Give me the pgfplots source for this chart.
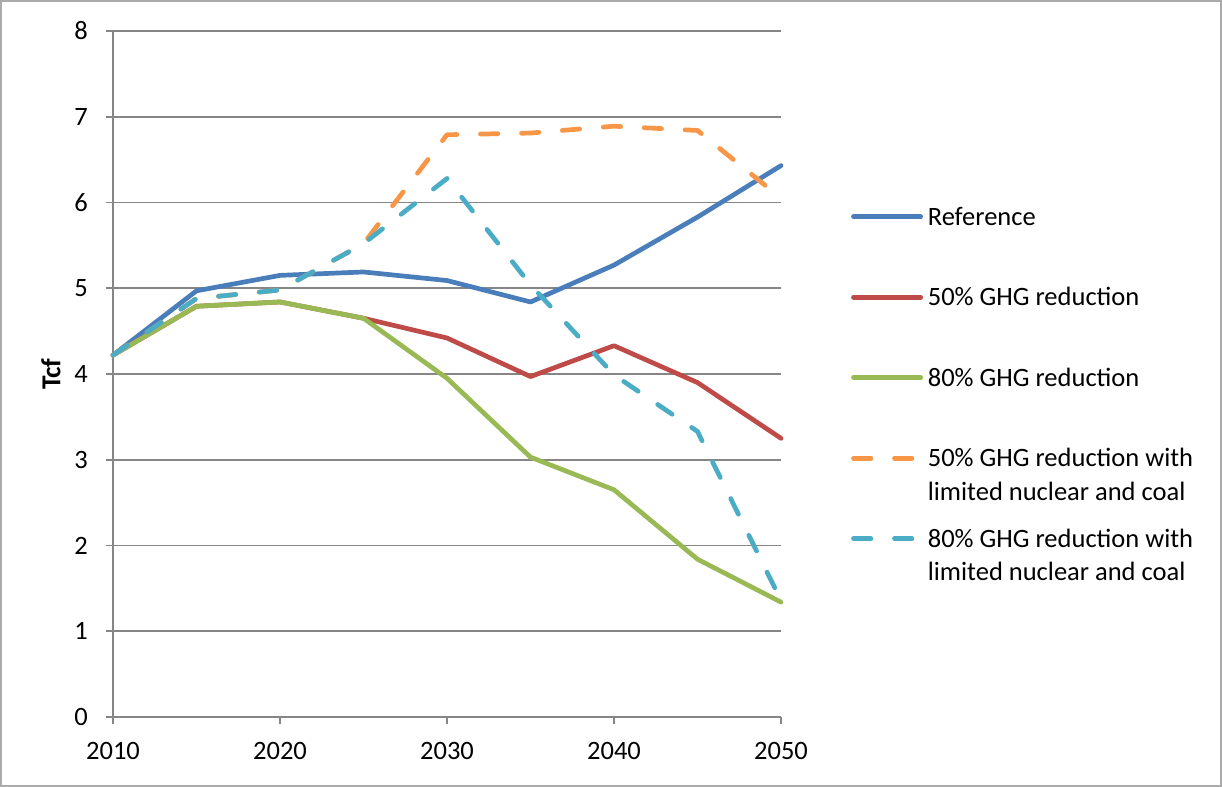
\documentclass[border=0pt]{standalone}
\usepackage{fontspec}
\setmainfont{Carlito}
\usepackage{pgfplots}
\pgfplotsset{compat=1.18}

\definecolor{refblue}{HTML}{4A7EBB}
\definecolor{redser}{HTML}{BE4B48}
\definecolor{greenser}{HTML}{98B954}
\definecolor{orangeser}{HTML}{F79646}
\definecolor{tealser}{HTML}{4BACC6}
\definecolor{gridgray}{HTML}{868686}

\begin{document}
\fontsize{13.25}{16.75}\selectfont
\begin{tikzpicture}
\useasboundingbox (0,0) rectangle (611pt,393.5pt);
\draw[gridgray!70, line width=0.75pt] (0.5pt,0.5pt) rectangle (610.5pt,393pt);
\begin{axis}[
    at={(56.5pt,35pt)}, anchor=south west,
    scale only axis, width=334pt, height=343pt,
    xmin=2010, xmax=2050, ymin=0, ymax=8,
    xtick={2010,2020,2030,2040,2050},
    ytick={0,1,2,3,4,5,6,7,8},
    axis lines*=left,
    axis line style={gridgray, line width=0.8pt},
    tick style={gridgray, line width=0.8pt},
    tick align=outside, major tick length=3.75pt,
    ymajorgrids, grid style={gridgray, line width=0.8pt},
    /pgf/number format/assume math mode=true,
    /pgf/number format/1000 sep={},
    xticklabel style={anchor=north, inner sep=0pt, yshift=-8.75pt},
    yticklabel style={anchor=east, inner sep=0pt, xshift=-8.6pt},
    ylabel={\fontsize{13.7}{16}\selectfont\bfseries Tcf},
    every axis y label/.style={at={(axis description cs:0,0.5)}, xshift=-31pt, rotate=90, anchor=center},
    clip=false,
    legend style={draw=none, fill=none, inner sep=0pt, outer sep=0pt,
        at={(axis description cs:1.105,0.7417)}, anchor=north west,
        row sep=31.75pt, column sep=2.4pt,
        nodes={inner sep=0pt, text height=8.5pt, text depth=0pt}},
    legend cell align=left,
    legend image code/.code={\draw[#1] (0pt,0pt) -- (33.6pt,0pt);},
    every axis plot/.append style={line width=2.35pt, line cap=round, line join=round},
]
\addplot[refblue] coordinates {
    (2010,4.22)(2015,4.97)(2020,5.15)(2025,5.19)(2030,5.09)(2035,4.84)(2040,5.27)(2045,5.83)(2050,6.43)
};
\addlegendentry{Reference}
\addplot[redser] coordinates {
    (2010,4.22)(2015,4.79)(2020,4.84)(2025,4.65)(2030,4.42)(2035,3.97)(2040,4.33)(2045,3.90)(2050,3.25)
};
\addlegendentry{50\% GHG reduction}
\addplot[greenser] coordinates {
    (2010,4.22)(2015,4.79)(2020,4.84)(2025,4.65)(2030,3.95)(2035,3.03)(2040,2.65)(2045,1.84)(2050,1.34)
};
\addlegendentry{80\% GHG reduction}
\addplot[orangeser, dash pattern=on 8.7pt off 11.8pt] coordinates {
    (2010,4.22)(2015,4.88)(2020,4.98)(2025,5.52)(2030,6.79)(2035,6.81)(2040,6.89)(2045,6.84)(2050,6.05)
};
\addlegendentry{\begin{tabular}[t]{@{}l@{}}50\% GHG reduction with\\limited nuclear and coal\end{tabular}}
\addplot[tealser, dash pattern=on 8.7pt off 11.8pt] coordinates {
    (2010,4.22)(2015,4.88)(2020,4.98)(2025,5.52)(2030,6.28)(2035,5.04)(2040,3.99)(2045,3.33)(2050,1.36)
};
\addlegendentry{\begin{tabular}[t]{@{}l@{}}80\% GHG reduction with\\limited nuclear and coal\end{tabular}}
\end{axis}
\end{tikzpicture}
\end{document}
